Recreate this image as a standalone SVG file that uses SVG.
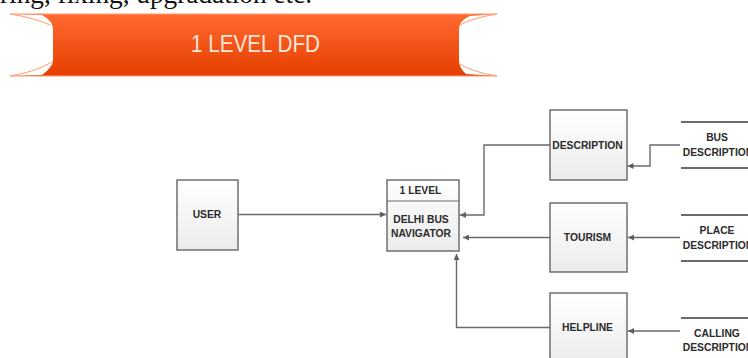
<svg xmlns="http://www.w3.org/2000/svg" width="748" height="358" viewBox="0 0 748 358">
<style>
.b{fill:url(#g);stroke:#6f6f6f;stroke-width:1.5}
.t{font-family:"Liberation Sans",Arial,sans-serif;font-size:10.300px;font-weight:bold;fill:#2b2b2b;text-anchor:middle}
.c{fill:none;stroke:#6a6a6a;stroke-width:1.4;marker-end:url(#a)}
.s{stroke:#6a6a6a;stroke-width:2.2}
</style>
<defs>
<linearGradient id="g" x1="0" y1="0" x2="0" y2="1"><stop offset="0" stop-color="#fff"/><stop offset="1" stop-color="#ececec"/></linearGradient>
<linearGradient id="o" x1="0" y1="0" x2="0" y2="1"><stop offset="0" stop-color="#ff6a30"/><stop offset="1" stop-color="#e53f00"/></linearGradient>
<marker id="a" markerWidth="7" markerHeight="6" refX="6" refY="3" orient="auto" markerUnits="userSpaceOnUse"><path d="M0 0L6 3L0 6z" fill="#5f5f5f"/></marker>
</defs>
<rect width="748" height="358" fill="#fff"/>
<text x="0" y="3" font-family="Liberation Serif,serif" font-size="27" fill="#111" textLength="312" lengthAdjust="spacingAndGlyphs">ring, fixing, upgradation etc.</text>
<g id="banner">
<path d="M10 14H497L470 16Q459 21 459 29V60Q459 68 466 74L497 76H10L42 75Q53 67 53 60V29Q53 21 42 15Z" fill="url(#o)"/>
<path d="M10 14H497M10 76H497M10 14Q35 18 50 25M497 14Q472 18 460 25M10 76Q35 72 52 62M497 76Q472 72 460 64" fill="none" stroke="#ff9a70" stroke-width="1"/>
<text x="255.500" y="52" font-family="Liberation Sans,Arial,sans-serif" font-size="24" fill="#ffe6da" text-anchor="middle" textLength="129" lengthAdjust="spacingAndGlyphs">1 LEVEL DFD</text>
</g>
<g id="connectors">
<path class="c" d="M238 214.500H386"/>
<path class="c" d="M550 145H484V215H460"/>
<path class="c" d="M680 145H650V166H627.500"/>
<path class="c" d="M550 237.500H463"/>
<path class="c" d="M680 237.500H628"/>
<path class="c" d="M550 327.500H456.500V254"/>
<path class="c" d="M680 331H628"/>
</g>
<g id="user"><rect class="b" x="177" y="180" width="61" height="70"/><text class="t" x="207" y="218">USER</text></g>
<g id="level"><rect class="b" x="387" y="180" width="72" height="71"/><path d="M387 201H459" stroke="#6f6f6f" stroke-width="1.2"/><text class="t" x="420.500" y="194">1 LEVEL</text><text class="t" x="421" y="223">DELHI BUS</text><text class="t" x="421" y="237">NAVIGATOR</text></g>
<g id="description"><rect class="b" x="550" y="110" width="77" height="70"/><text class="t" x="587.500" y="149">DESCRIPTION</text></g>
<g id="tourism"><rect class="b" x="550" y="203" width="77" height="69"/><text class="t" x="587.500" y="241">TOURISM</text></g>
<g id="helpline"><rect class="b" x="550" y="293" width="77" height="70"/><text class="t" x="587.500" y="331">HELPLINE</text></g>
<g id="bus"><path class="s" d="M681 122H748M681 168H748"/><text class="t" x="717" y="141">BUS</text><text class="t" x="718" y="156">DESCRIPTION</text></g>
<g id="place"><path class="s" d="M681 215H748M681 261H748"/><text class="t" x="717" y="234">PLACE</text><text class="t" x="718" y="249">DESCRIPTION</text></g>
<g id="calling"><path class="s" d="M681 318H748"/><text class="t" x="717" y="337">CALLING</text><text class="t" x="718" y="351">DESCRIPTION</text></g>
</svg>
